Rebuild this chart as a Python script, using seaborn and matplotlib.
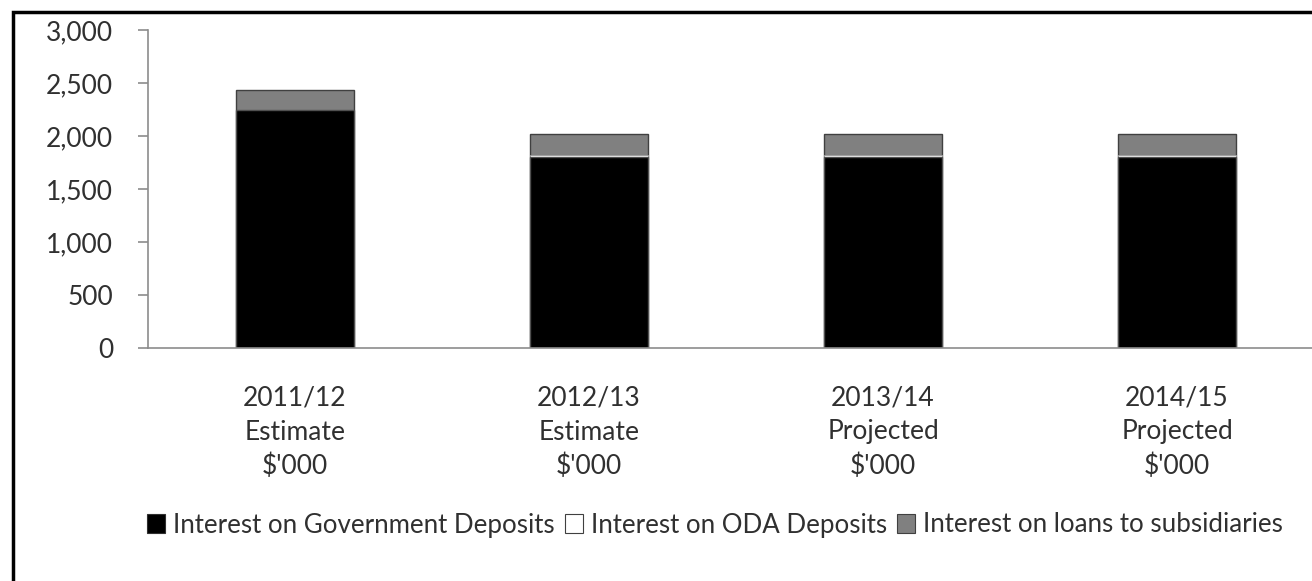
import matplotlib
matplotlib.use("Agg")
import matplotlib.pyplot as plt
from matplotlib.patches import Rectangle, Patch
from matplotlib.ticker import FuncFormatter, FixedLocator
import numpy as np
import pandas as pd
import seaborn as sns

# Interest income by year ($'000)
periods = ["2011/12\nEstimate\n$'000", "2012/13\nEstimate\n$'000",
           "2013/14\nProjected\n$'000", "2014/15\nProjected\n$'000"]
gov_deposits = [2250, 1800, 1800, 1800]
oda_deposits = [0, 25, 25, 25]
loans_subsidiaries = [180, 195, 195, 195]
series_names = ["Interest on Government Deposits", "Interest on ODA Deposits",
                "Interest on loans to subsidiaries"]

df = pd.DataFrame({
    "period": periods,
    "gov": gov_deposits,
    "oda": oda_deposits,
    "loans": loans_subsidiaries,
})
# cumulative heights for stacking by overlay
df["top_oda"] = df["gov"] + df["oda"]
df["top_loans"] = df["top_oda"] + df["loans"]

sns.set_style("white")
plt.rcParams["font.family"] = ["Lato", "DejaVu Sans"]
text_color = "#303030"
axis_color = "#8c8c8c"

W, H = 1312, 581
fig = plt.figure(figsize=(W / 100, H / 100), dpi=100)
ax = fig.add_axes([148 / W, (H - 348) / H, 1176 / W, 318 / H])

layers = [("top_loans", "#808080", "#404040", 1.0),
          ("top_oda", "#ffffff", "#9a9a9a", 0.6),
          ("gov", "#000000", "#505050", 1.0)]
for col, fc, ec, lw in layers:
    sns.barplot(data=df, x="period", y=col, color=fc, width=0.4,
                edgecolor=ec, linewidth=lw, saturation=1, ax=ax)

ax.set_xlim(-0.5, 3.5)
ax.set_ylim(0, 3000)
ax.set_yticks(np.arange(0, 3001, 500))
ax.yaxis.set_major_formatter(FuncFormatter(lambda v, p: f"{int(v):,}"))
ax.set_xlabel("")
ax.set_ylabel("")

for s in ["top", "right"]:
    ax.spines[s].set_visible(False)
for s in ["left", "bottom"]:
    ax.spines[s].set_color(axis_color)
    ax.spines[s].set_linewidth(1.2)

ax.xaxis.set_minor_locator(FixedLocator([-0.5, 0.5, 1.5, 2.5, 3.5]))
ax.tick_params(axis="x", which="major", length=0, pad=27,
               labelsize=19, labelcolor=text_color)
ax.tick_params(axis="x", which="minor", length=7, width=1.2,
               color=axis_color, direction="out")
ax.tick_params(axis="y", length=7, width=1.2, color=axis_color,
               direction="out", pad=18, labelsize=19, labelcolor=text_color,
               left=True)
for lbl in ax.get_xticklabels():
    lbl.set_linespacing(1.45)

handles = [Patch(facecolor="#000000", edgecolor="#303030", linewidth=0.8),
           Patch(facecolor="#ffffff", edgecolor="#404040", linewidth=0.8),
           Patch(facecolor="#808080", edgecolor="#404040", linewidth=0.8)]
fig.legend(handles, series_names, loc="center", ncol=3,
           bbox_to_anchor=(715 / W, 1 - 525 / H), frameon=False,
           fontsize=18.6, labelcolor=text_color, handlelength=0.7,
           handleheight=0.7, handletextpad=0.3, columnspacing=0.4)

# outer chart frame
fig.patches.append(Rectangle((13 / W, -0.1), 1.2, (H - 12) / H + 0.1,
                             transform=fig.transFigure, fill=False,
                             edgecolor="black", linewidth=2.5, zorder=10))

fig.savefig("out.png", dpi=100)
